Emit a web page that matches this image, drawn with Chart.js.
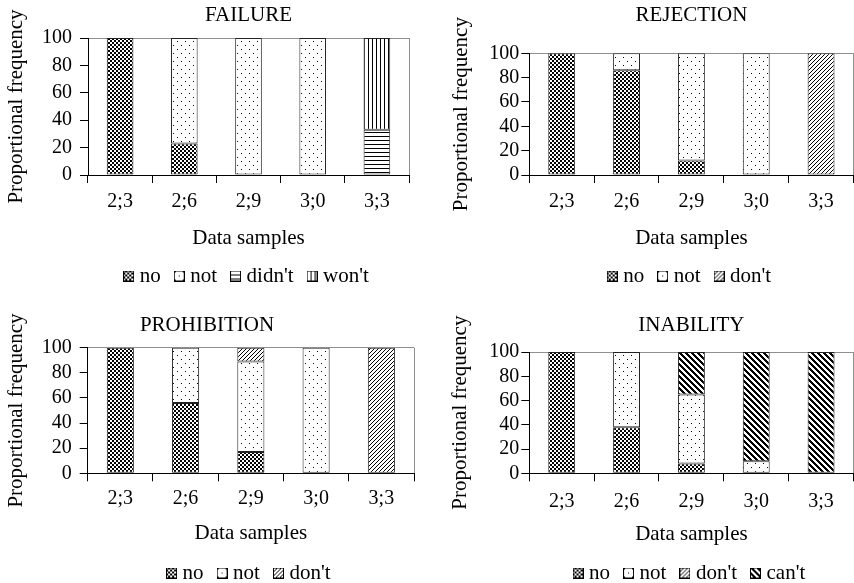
<!DOCTYPE html>
<html><head><meta charset="utf-8">
<script src="https://cdn.jsdelivr.net/npm/chart.js@4/dist/chart.umd.min.js"></script>
<style>
html,body{margin:0;padding:0;background:#fff;}
#wrap{position:relative;width:854px;height:583px;overflow:hidden;background:#fff;}
canvas{position:absolute;}
</style></head><body>
<div id="wrap">
<canvas id="c1" width="430" height="290" style="left:0px;top:0px;width:430px;height:290px"></canvas>
<canvas id="c2" width="424" height="290" style="left:430px;top:0px;width:424px;height:290px"></canvas>
<canvas id="c3" width="430" height="293" style="left:0px;top:290px;width:430px;height:293px"></canvas>
<canvas id="c4" width="424" height="293" style="left:430px;top:290px;width:424px;height:293px"></canvas>
</div>
<script>
// ---------- data ----------
const categories = ['2;3', '2;6', '2;9', '3;0', '3;3'];
const yTickValues = [0, 20, 40, 60, 80, 100];
const yAxisTitle = 'Proportional frequency';
const xAxisTitle = 'Data samples';

const failureTitle = 'FAILURE';
const failureNo     = [100, 23, 0, 0, 0];
const failureNot    = [0, 77, 100, 100, 0];
const failureDidnt  = [0, 0, 0, 0, 33];
const failureWont   = [0, 0, 0, 0, 67];

const rejectionTitle = 'REJECTION';
const rejectionNo   = [100, 86, 12, 0, 0];
const rejectionNot  = [0, 14, 88, 100, 0];
const rejectionDont = [0, 0, 0, 0, 100];

const prohibitionTitle = 'PROHIBITION';
const prohibitionNo   = [100, 56, 17, 0, 0];
const prohibitionNot  = [0, 44, 72, 100, 0];
const prohibitionDont = [0, 0, 11, 0, 100];

const inabilityTitle = 'INABILITY';
const inabilityNo   = [100, 38, 8, 0, 0];
const inabilityNot  = [0, 62, 57, 10, 0];
const inabilityDont = [0, 0, 0, 0, 0];
const inabilityCant = [0, 0, 35, 90, 100];

// ---------- styling ----------
const FONT = '"Liberation Serif", "Times New Roman", Times, serif';
Chart.defaults.font.family = FONT;
Chart.defaults.color = '#000';
const GRAY = '#8f8f8f';

function makeTile(w, h, on) {
  const c = document.createElement('canvas');
  c.width = w; c.height = h;
  const g = c.getContext('2d');
  const img = g.createImageData(w, h);
  for (let y = 0; y < h; y++) for (let x = 0; x < w; x++) {
    const i = (y * w + x) * 4;
    const v = on(x, y) ? 0 : 255;
    img.data[i] = img.data[i + 1] = img.data[i + 2] = v;
    img.data[i + 3] = 255;
  }
  g.putImageData(img, 0, 0);
  return c;
}
const tiles = {
  no:    makeTile(4, 4, (x, y) => ((x >> 1) + (y >> 1)) % 2 === 1),
  not:   makeTile(8, 8, (x, y) => (x === 1 && y === 1) || (x === 5 && y === 5)),
  didnt: makeTile(4, 4, (x, y) => y % 4 === 0),
  wont:  makeTile(4, 4, (x, y) => x % 4 === 0),
  dont:  makeTile(4, 4, (x, y) => (x + y) % 4 === 0),
  cant:  makeTile(6, 6, (x, y) => (((x - y) % 6) + 6) % 6 < 3)
};
function makeIcon(tile) {
  const c = document.createElement('canvas');
  c.width = 11; c.height = 11;
  const g = c.getContext('2d');
  g.fillStyle = g.createPattern(tile, 'repeat');
  g.fillRect(0, 0, 11, 11);
  g.strokeStyle = '#000'; g.lineWidth = 1;
  g.strokeRect(0.5, 0.5, 10, 10);
  return c;
}

function buildChart(id, title, series, L) {
  const canvas = document.getElementById(id);
  const ctx = canvas.getContext('2d');
  const icons = series.map(s => makeIcon(tiles[s.pattern]));
  const datasets = series.map(s => ({
    label: s.label,
    data: s.values.map(v => (v === 0 ? null : v)),
    backgroundColor: ctx.createPattern(tiles[s.pattern], 'repeat'),
    borderColor: '#222',
    borderWidth: 1,
    borderSkipped: false,
    barPercentage: 0.415,
    categoryPercentage: 1
  }));
  return new Chart(ctx, {
    type: 'bar',
    data: { labels: categories, datasets },
    options: {
      responsive: false,
      animation: false,
      devicePixelRatio: 1,
      layout: { padding: { top: 0, left: 0, right: L.padRight, bottom: L.padBottom } },
      plugins: {
        tooltip: { enabled: false },
        title: {
          display: true, text: title, color: '#000', fullSize: L.titleFull,
          font: { family: FONT, size: 21, weight: 'normal', lineHeight: 1.2 },
          padding: { top: L.titleTop, bottom: L.titleBottom }
        },
        legend: {
          display: true, position: 'bottom', fullSize: false,
          labels: {
            color: '#000', usePointStyle: true, boxWidth: 1, boxHeight: 11,
            padding: 18,
            font: { family: FONT, size: 21, lineHeight: 1.2 },
            generateLabels: (chart) => chart.data.datasets.map((d, i) => ({
              text: d.label, datasetIndex: i, pointStyle: icons[i],
              fillStyle: '#fff', strokeStyle: '#000', lineWidth: 1, hidden: false, fontColor: '#000'
            }))
          }
        }
      },
      scales: {
        x: {
          stacked: true,
          offset: true,
          border: { display: true, color: '#000', width: 1 },
          grid: {
            display: true, drawOnChartArea: true, drawTicks: true, tickLength: 8,
            color: (c) => (c.type === 'tick' ? 'rgba(0,0,0,0)' : GRAY),
            tickColor: '#000', lineWidth: 1, tickWidth: 1
          },
          ticks: { color: '#000', padding: L.xTickPad, autoSkip: false, font: { family: FONT, size: 20, lineHeight: 1.2 }, maxRotation: 0 },
          title: {
            display: true, text: xAxisTitle, color: '#000',
            font: { family: FONT, size: 21, lineHeight: 1.2 },
            padding: { top: 0, bottom: L.xTitleBottom }
          },
          afterFit: (s) => { s.height = L.xHeight; }
        },
        y: {
          stacked: true,
          min: 0, max: 100,
          border: { display: true, color: '#000', width: 1 },
          grid: {
            display: true, drawOnChartArea: true, drawTicks: true, tickLength: 8,
            color: (c) => (c.tick && c.tick.value === 100 ? GRAY : 'rgba(0,0,0,0)'),
            tickColor: '#000', lineWidth: 1, tickWidth: 1
          },
          afterBuildTicks: (s) => { s.ticks = yTickValues.map(v => ({ value: v })); },
          ticks: { color: '#000', padding: L.yTickPad, autoSkip: false, font: { family: FONT, size: 20, lineHeight: 1.2 } },
          title: {
            display: true, text: yAxisTitle, color: '#000',
            font: { family: FONT, size: 21, lineHeight: 1.2 },
            padding: { top: L.yTitleTop, bottom: 0 }
          },
          afterFit: (s) => { s.width = L.yWidth; }
        }
      }
    }
  });
}

buildChart('c1', failureTitle, [
  { label: 'no', values: failureNo, pattern: 'no' },
  { label: 'not', values: failureNot, pattern: 'not' },
  { label: "didn't", values: failureDidnt, pattern: 'didnt' },
  { label: "won't", values: failureWont, pattern: 'wont' }
], { padRight: 21, padBottom: -6.5, titleFull: false, titleTop: 2.9, titleBottom: 9.9,
     yWidth: 88, yTitleTop: 3.4, yTickPad: 8, xHeight: 72.5, xTickPad: 7, xTitleBottom: -3.1 });

buildChart('c2', rejectionTitle, [
  { label: 'no', values: rejectionNo, pattern: 'no' },
  { label: 'not', values: rejectionNot, pattern: 'not' },
  { label: "don't", values: rejectionDont, pattern: 'dont' }
], { padRight: 0.5, padBottom: -6.5, titleFull: false, titleTop: 2.9, titleBottom: 25.2,
     yWidth: 99.3, yTitleTop: 18.4, yTickPad: 2, xHeight: 72.5, xTickPad: 7, xTitleBottom: -3.1 });

buildChart('c3', prohibitionTitle, [
  { label: 'no', values: prohibitionNo, pattern: 'no' },
  { label: 'not', values: prohibitionNot, pattern: 'not' },
  { label: "don't", values: prohibitionDont, pattern: 'dont' }
], { padRight: 16, padBottom: -10.5, titleFull: true, titleTop: 22.6, titleBottom: 9.9,
     yWidth: 87.7, yTitleTop: 4.1, yTickPad: 8, xHeight: 71.2, xTickPad: 5.7, xTitleBottom: -1.1 });

buildChart('c4', inabilityTitle, [
  { label: 'no', values: inabilityNo, pattern: 'no' },
  { label: 'not', values: inabilityNot, pattern: 'not' },
  { label: "don't", values: inabilityDont, pattern: 'dont' },
  { label: "can't", values: inabilityCant, pattern: 'cant' }
], { padRight: 0.5, padBottom: -10.5, titleFull: false, titleTop: 22.6, titleBottom: 14.2,
     yWidth: 99.3, yTitleTop: 18.2, yTickPad: 2, xHeight: 71.2, xTickPad: 8.2, xTitleBottom: -2.1 });
</script>
</body></html>
